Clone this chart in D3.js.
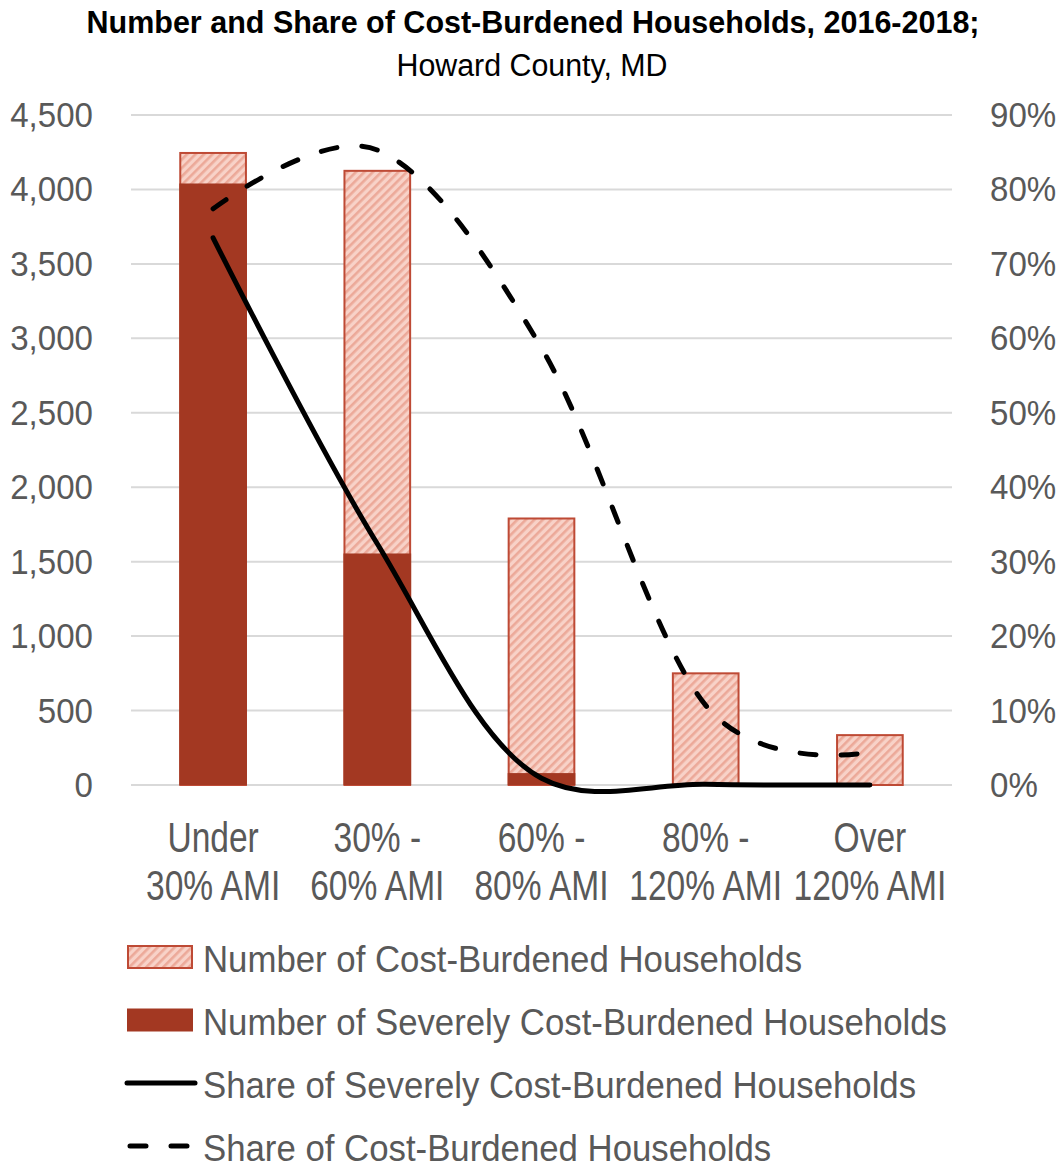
<!DOCTYPE html>
<html>
<head>
<meta charset="utf-8">
<script src="https://cdn.jsdelivr.net/npm/d3@7"></script>
<style>
  html, body { margin: 0; padding: 0; background: #ffffff; }
  svg { display: block; }
  text { font-family: "Liberation Sans", Arial, sans-serif; fill: #595959; }
</style>
</head>
<body>
<script>
// Income groups (two-line axis labels)
const categories = ["Under 30% AMI", "30% - 60% AMI", "60% - 80% AMI", "80% - 120% AMI", "Over 120% AMI"];
const categoryLine1 = ["Under", "30% -", "60% -", "80% -", "Over"];
const categoryLine2 = ["30% AMI", "60% AMI", "80% AMI", "120% AMI", "120% AMI"];

// Household counts
const costBurdened = [4245, 4125, 1790, 750, 335];
const severelyBurdened = [4040, 1555, 80, 10, 0];

// Shares of households in each income group
const shareSevere = [0.735, 0.324, 0.009, 0.001, 0.0];
const shareBurdened = [0.774, 0.853, 0.587, 0.107, 0.044];

// Axis ticks
const leftTicks = [0, 500, 1000, 1500, 2000, 2500, 3000, 3500, 4000, 4500];
const rightTicks = [0, 0.1, 0.2, 0.3, 0.4, 0.5, 0.6, 0.7, 0.8, 0.9];

const titleText = "Number and Share of Cost-Burdened Households, 2016-2018;";
const subtitleText = "Howard County, MD";
const legendLabels = [
  "Number of Cost-Burdened Households",
  "Number of Severely Cost-Burdened Households",
  "Share of Severely Cost-Burdened Households",
  "Share of Cost-Burdened Households"
];

const W = 1064, H = 1169;
const plot = { left: 131, right: 952, top: 115, bottom: 785 };
const darkRed = "#A33822";
const hatchBase = "#F8D2C8";
const hatchStripe = "#ECA999";
const hatchStroke = "#BE4A35";
const gridColor = "#D9D9D9";

const svg = d3.select("body").append("svg").attr("width", W).attr("height", H);

// Diagonal hatch fill for the cost-burdened bars
const defs = svg.append("defs");
const pat = defs.append("pattern")
  .attr("id", "hatch")
  .attr("patternUnits", "userSpaceOnUse")
  .attr("width", 6).attr("height", 6)
  .attr("patternTransform", "rotate(45)");
pat.append("rect").attr("width", 6).attr("height", 6).attr("fill", hatchBase);
pat.append("rect").attr("width", 2.6).attr("height", 6).attr("fill", hatchStripe);

const x = d3.scaleBand().domain(categories).range([plot.left, plot.right]).paddingInner(0.6).paddingOuter(0.3);
const yLeft = d3.scaleLinear().domain([0, 4500]).range([plot.bottom, plot.top]);
const yRight = d3.scaleLinear().domain([0, 0.9]).range([plot.bottom, plot.top]);

// Title
svg.append("text")
  .attr("x", 533).attr("y", 33)
  .attr("text-anchor", "middle")
  .attr("font-size", 32).attr("font-weight", "bold")
  .style("font-family", "'Liberation Sans Narrow', 'Liberation Sans', Arial, sans-serif")
  .style("fill", "#000")
  .attr("textLength", 893).attr("lengthAdjust", "spacingAndGlyphs")
  .text(titleText);
svg.append("text")
  .attr("x", 532).attr("y", 76)
  .attr("text-anchor", "middle")
  .attr("font-size", 31)
  .style("fill", "#000")
  .attr("textLength", 271).attr("lengthAdjust", "spacingAndGlyphs")
  .text(subtitleText);

// Gridlines
svg.append("g").selectAll("line").data(leftTicks).join("line")
  .attr("x1", plot.left).attr("x2", plot.right)
  .attr("y1", d => yLeft(d)).attr("y2", d => yLeft(d))
  .attr("stroke", gridColor).attr("stroke-width", 2);

// Left axis
const gLeft = svg.append("g").attr("transform", "translate(93,0)")
  .call(d3.axisLeft(yLeft).tickValues(leftTicks).tickFormat(d3.format(",")).tickSize(0).tickPadding(0));
gLeft.select(".domain").remove();
gLeft.selectAll("text")
  .attr("font-size", 36).attr("font-family", null)
  .attr("transform", "scale(0.92,1)");

// Right axis
const gRight = svg.append("g").attr("transform", "translate(990,0)")
  .call(d3.axisRight(yRight).tickValues(rightTicks).tickFormat(d3.format(".0%")).tickSize(0).tickPadding(0));
gRight.select(".domain").remove();
gRight.selectAll("text")
  .attr("font-size", 36).attr("font-family", null)
  .attr("transform", "scale(0.92,1)");

// Category axis with two-line labels
const gBottom = svg.append("g").attr("transform", `translate(0,${plot.bottom})`)
  .call(d3.axisBottom(x).tickSize(0).tickFormat(""));
gBottom.select(".domain").remove();
gBottom.selectAll(".tick").each(function(d, i) {
  const t = d3.select(this).append("text")
    .attr("text-anchor", "middle")
    .attr("font-size", 43)
    .attr("transform", "scale(0.78,1)");
  t.append("tspan").attr("x", 0).attr("y", 67).text(categoryLine1[i]);
  t.append("tspan").attr("x", 0).attr("y", 115).text(categoryLine2[i]);
});

// Bars: total cost-burdened (hatched) behind severe (solid)
const bars = svg.append("g");
bars.selectAll("rect.total").data(categories).join("rect")
  .attr("class", "total")
  .attr("x", d => x(d)).attr("width", x.bandwidth())
  .attr("y", (d, i) => yLeft(costBurdened[i]))
  .attr("height", (d, i) => yLeft(0) - yLeft(costBurdened[i]))
  .attr("fill", "url(#hatch)")
  .attr("stroke", hatchStroke).attr("stroke-width", 2);
bars.selectAll("rect.severe").data(categories).join("rect")
  .attr("class", "severe")
  .attr("x", d => x(d) - 1).attr("width", x.bandwidth() + 2)
  .attr("y", (d, i) => yLeft(severelyBurdened[i]))
  .attr("height", (d, i) => yLeft(0) - yLeft(severelyBurdened[i]))
  .attr("fill", darkRed);

// Smoothed share lines; the severe line uses a centripetal spline to limit overshoot near zero
const cx = d => x(d) + x.bandwidth() / 2;
const lineGen = (vals, alpha) => d3.line()
  .x((d, i) => cx(categories[i]))
  .y(d => yRight(d))
  .curve(d3.curveCatmullRom.alpha(alpha))(vals);

svg.append("path")
  .attr("d", lineGen(shareSevere, 0.5))
  .attr("fill", "none").attr("stroke", "#000").attr("stroke-width", 5)
  .attr("stroke-linecap", "round");
svg.append("path")
  .attr("d", lineGen(shareBurdened, 0))
  .attr("fill", "none").attr("stroke", "#000").attr("stroke-width", 5)
  .attr("stroke-linecap", "round")
  .attr("stroke-dasharray", "16,25");

// Legend
const legendRows = [957, 1020, 1083, 1146];
const lg = svg.append("g");
lg.append("rect").attr("x", 128).attr("y", legendRows[0] - 11).attr("width", 64).attr("height", 22)
  .attr("fill", "url(#hatch)").attr("stroke", hatchStroke).attr("stroke-width", 2);
lg.append("rect").attr("x", 127).attr("y", legendRows[1] - 11.5).attr("width", 66).attr("height", 23)
  .attr("fill", darkRed);
lg.append("line").attr("x1", 127).attr("x2", 195).attr("y1", legendRows[2]).attr("y2", legendRows[2])
  .attr("stroke", "#000").attr("stroke-width", 5).attr("stroke-linecap", "round");
lg.append("line").attr("x1", 130).attr("x2", 195).attr("y1", legendRows[3]).attr("y2", legendRows[3])
  .attr("stroke", "#000").attr("stroke-width", 5).attr("stroke-linecap", "round")
  .attr("stroke-dasharray", "16,25");
lg.selectAll("text").data(legendLabels).join("text")
  .attr("transform", (d, i) => `translate(203,${legendRows[i] + 14.5}) scale(0.94,1)`)
  .attr("font-size", 37)
  .text(d => d);
</script>
</body>
</html>
